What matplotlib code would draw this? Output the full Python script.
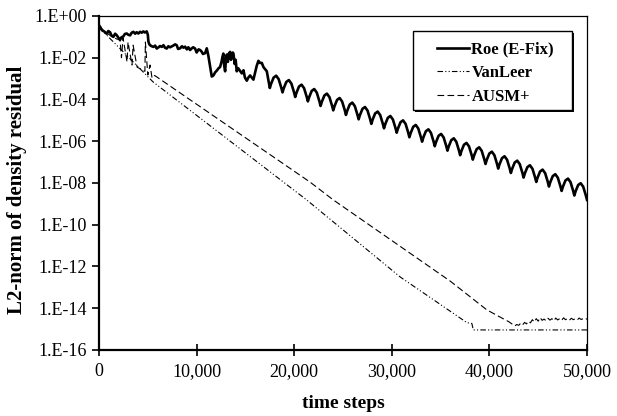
import matplotlib
matplotlib.use('Agg')
import matplotlib.pyplot as plt
from matplotlib.patches import Rectangle
import numpy as np

# tick positions / labels
x_ticks = [0, 10000, 20000, 30000, 40000, 50000]
x_tick_labels = ['0', '10,000', '20,000', '30,000', '40,000', '50,000']
y_ticks = [1e0, 1e-2, 1e-4, 1e-6, 1e-8, 1e-10, 1e-12, 1e-14, 1e-16]
y_tick_labels = ['1.E+00', '1.E-02', '1.E-04', '1.E-06', '1.E-08',
                 '1.E-10', '1.E-12', '1.E-14', '1.E-16']

# Roe (E-Fix): residual as log10 values
roe_steps = [0, 150, 300, 550, 790, 950, 1130, 1300, 1470, 1650, 1810, 2000,
             2150, 2300, 2490, 2650, 2840, 3000, 3180, 3350, 3520, 3700, 3850,
             4030, 4200, 4380, 4540, 4700, 4890, 5000, 5060, 5150, 5230, 5400,
             5570, 5750, 5910, 6100, 6250, 6430, 6600, 6760, 6940, 7100, 7280,
             7450, 7600, 7800, 7960, 8100, 8300, 8500, 8650, 8820, 9000, 9150,
             9330, 9500, 9650, 9840, 10000, 10200, 10350, 10500, 10650, 10870,
             11040, 11200, 11380, 11550, 11720, 11900, 12100, 12250, 12400,
             12550, 12650, 12740, 12830, 12920, 13000, 13090, 13200, 13300,
             13430, 13520, 13600, 13700, 13770, 13900, 14000, 14110, 14250,
             14400, 14630, 14800, 14950, 15140, 15300, 15480, 15650, 15820,
             16000, 16150, 16330, 16500, 16680, 16850, 17190,
             17500, 17630, 17890, 18150, 18410, 18670,
             18800, 18930, 19190, 19450, 19710, 19970,
             20100, 20230, 20490, 20750, 21010, 21270,
             21400, 21530, 21790, 22050, 22310, 22570,
             22700, 22830, 23090, 23350, 23610, 23870,
             24000, 24130, 24390, 24650, 24910, 25170,
             25300, 25430, 25690, 25950, 26210, 26470,
             26600, 26730, 26990, 27250, 27510, 27770,
             27900, 28030, 28290, 28550, 28810, 29070,
             29200, 29330, 29590, 29850, 30110, 30370,
             30500, 30630, 30890, 31150, 31410, 31670,
             31800, 31930, 32190, 32450, 32710, 32970,
             33100, 33230, 33490, 33750, 34010, 34270,
             34400, 34530, 34790, 35050, 35310, 35570,
             35700, 35830, 36090, 36350, 36610, 36870,
             37000, 37130, 37390, 37650, 37910, 38170,
             38300, 38430, 38690, 38950, 39210, 39470,
             39600, 39730, 39990, 40250, 40510, 40770,
             40900, 41030, 41290, 41550, 41810, 42070,
             42200, 42330, 42590, 42850, 43110, 43370,
             43500, 43630, 43890, 44150, 44410, 44670,
             44800, 44930, 45190, 45450, 45710, 45970,
             46100, 46230, 46490, 46750, 47010, 47270,
             47400, 47530, 47790, 48050, 48310, 48570,
             48700, 48830, 49090, 49350, 49610, 49870,
             50000]
roe_log = [-0.45, -0.55, -0.68, -0.75, -0.85, -0.72, -0.78, -0.95, -1.0, -0.85,
           -0.92, -1.05, -1.15, -1.02, -0.98, -0.86, -0.84, -0.9, -0.93, -0.8,
           -0.76, -0.85, -0.78, -0.84, -0.76, -0.8, -0.74, -0.79, -0.74, -0.9,
           -1.23, -1.35, -1.4, -1.45, -1.48, -1.42, -1.56, -1.5, -1.44, -1.48,
           -1.4, -1.52, -1.56, -1.45, -1.5, -1.46, -1.42, -1.36, -1.4, -1.58,
           -1.55, -1.45, -1.52, -1.47, -1.6, -1.5, -1.63, -1.55, -1.5, -1.56,
           -1.75, -1.6, -1.63, -1.7, -1.82, -1.78, -1.55, -1.9, -2.4, -2.9,
           -2.85, -2.7, -2.6, -2.5, -2.45, -2.2, -1.95, -1.8, -2.4, -2.65,
           -2.1, -1.85, -2.2, -1.8, -1.72, -2.1, -1.95, -1.75, -1.8, -2.3,
           -2.1, -2.65, -2.5, -2.6, -2.75, -2.6, -2.95, -3.1, -2.95, -2.85,
           -2.95, -3.05, -2.7, -2.4, -2.15, -2.25, -2.25, -2.45, -2.65,
           -3.45, -3.25, -2.95, -2.86, -3.03, -3.43,
           -3.66, -3.46, -3.16, -3.07, -3.24, -3.64,
           -3.88, -3.68, -3.38, -3.29, -3.46, -3.86,
           -4.09, -3.89, -3.59, -3.50, -3.67, -4.07,
           -4.31, -4.11, -3.81, -3.72, -3.89, -4.29,
           -4.52, -4.32, -4.02, -3.93, -4.10, -4.50,
           -4.74, -4.54, -4.24, -4.15, -4.32, -4.72,
           -4.95, -4.75, -4.45, -4.36, -4.53, -4.93,
           -5.17, -4.97, -4.67, -4.58, -4.75, -5.15,
           -5.38, -5.18, -4.88, -4.79, -4.96, -5.36,
           -5.59, -5.39, -5.09, -5.00, -5.17, -5.57,
           -5.81, -5.61, -5.31, -5.22, -5.39, -5.79,
           -6.02, -5.82, -5.52, -5.43, -5.60, -6.00,
           -6.24, -6.04, -5.74, -5.65, -5.82, -6.22,
           -6.45, -6.25, -5.95, -5.86, -6.03, -6.43,
           -6.67, -6.47, -6.17, -6.08, -6.25, -6.65,
           -6.88, -6.68, -6.38, -6.29, -6.46, -6.86,
           -7.09, -6.89, -6.59, -6.50, -6.67, -7.07,
           -7.31, -7.11, -6.81, -6.72, -6.89, -7.29,
           -7.52, -7.32, -7.02, -6.93, -7.10, -7.50,
           -7.74, -7.54, -7.24, -7.15, -7.32, -7.72,
           -7.95, -7.75, -7.45, -7.36, -7.53, -7.93,
           -8.17, -7.97, -7.67, -7.58, -7.75, -8.15,
           -8.38, -8.18, -7.88, -7.79, -7.96, -8.36,
           -8.60, -8.40, -8.10, -8.01, -8.18, -8.58,
           -8.81]

# VanLeer
vanleer_steps = [0, 5540, 21270, 30850, 37690, 38200, 38350, 50000]
vanleer_log = [-0.55, -3.16, -8.81, -12.5, -14.69, -14.73, -15.04, -15.04]

# AUSM+
ausm_steps = [0, 600, 1200, 1800, 2150, 2300, 2460, 2870, 2970, 3380, 3490,
              3900, 4300, 4700, 4750, 5000, 5230, 5430, 5700, 21600, 24000,
              35980, 39740, 41000, 42000, 42600,
              42800, 43000, 43200, 43400, 43600, 43800, 44000, 44200, 44400,
              44600, 44800, 45000, 45200, 45400, 45600, 45800, 46000, 46200,
              46400, 46600, 46800, 47000, 47200, 47400, 47600, 47800, 48000,
              48200, 48400, 48600, 48800, 49000, 49200, 49400, 49600, 49800,
              50000]
ausm_log = [-0.5, -0.75, -0.95, -1.1, -1.15, -2.0, -1.05, -2.2, -1.25, -2.35,
            -1.4, -2.45, -2.55, -2.65, -1.25, -2.83, -2.35, -2.97, -2.85,
            -7.95, -8.81, -12.7, -14.08, -14.4, -14.65, -14.85,
            -14.78, -14.82, -14.72, -14.8, -14.68, -14.75, -14.62, -14.7,
            -14.55, -14.66, -14.5, -14.62, -14.45, -14.58, -14.52, -14.6,
            -14.48, -14.57, -14.5, -14.6, -14.47, -14.56, -14.5, -14.58,
            -14.46, -14.55, -14.5, -14.57, -14.48, -14.55, -14.5, -14.56,
            -14.47, -14.54, -14.5, -14.55, -14.5]


def main():
    plt.rcParams['font.family'] = ['Liberation Serif', 'DejaVu Serif']

    fig = plt.figure(figsize=(6.17, 4.16), dpi=100)
    ax = fig.add_axes([0.1605, 0.1587, 0.7909, 0.8029])

    ax.plot(roe_steps, 10.0 ** np.array(roe_log), color='black', lw=1.9,
            label='Roe (E-Fix)')
    ax.plot(vanleer_steps, 10.0 ** np.array(vanleer_log), color='black', lw=0.8,
            dashes=(5, 2, 1, 2, 1, 2), label='VanLeer')
    ax.plot(ausm_steps, 10.0 ** np.array(ausm_log), color='black', lw=0.8,
            dashes=(6, 3), label='AUSM+')

    ax.set_yscale('log')
    ax.set_xlim(0, 50000)
    ax.set_ylim(1e-16, 1)
    ax.set_xticks(x_ticks)
    ax.set_xticklabels(x_tick_labels)
    ax.set_yticks(y_ticks)
    ax.set_yticklabels(y_tick_labels)
    ax.minorticks_off()
    ax.tick_params(axis='x', direction='inout', length=9, width=1.2,
                   labelsize=13, pad=5)
    ax.tick_params(axis='y', direction='out', length=5, width=1.2,
                   labelsize=13, pad=4)

    for side in ['left', 'bottom']:
        ax.spines[side].set_linewidth(1.6)
    for side in ['top', 'right']:
        ax.spines[side].set_linewidth(0.9)

    ax.set_xlabel('time steps', fontsize=14, fontweight='bold', labelpad=11)
    ax.set_ylabel('L2-norm of density residual', fontsize=15,
                  fontweight='bold')
    ax.yaxis.set_label_coords(-0.147, 0.479)

    # legend box with a dark drop shadow, drawn by hand
    ax.add_patch(Rectangle((0.648, 0.712), 0.326, 0.236, transform=ax.transAxes,
                           facecolor='black', edgecolor='none', zorder=4))
    ax.add_patch(Rectangle((0.643, 0.719), 0.326, 0.236, transform=ax.transAxes,
                           facecolor='white', edgecolor='black', lw=1.0,
                           zorder=5))
    leg = ax.legend(loc='upper left', bbox_to_anchor=(0.693, 0.923),
                    borderaxespad=0, borderpad=0, frameon=False,
                    prop={'weight': 'bold', 'size': 12}, handlelength=1.9,
                    handletextpad=0.15, labelspacing=0.45)
    leg.set_zorder(6)

    fig.savefig('out.png', dpi=100)


if __name__ == '__main__':
    main()
